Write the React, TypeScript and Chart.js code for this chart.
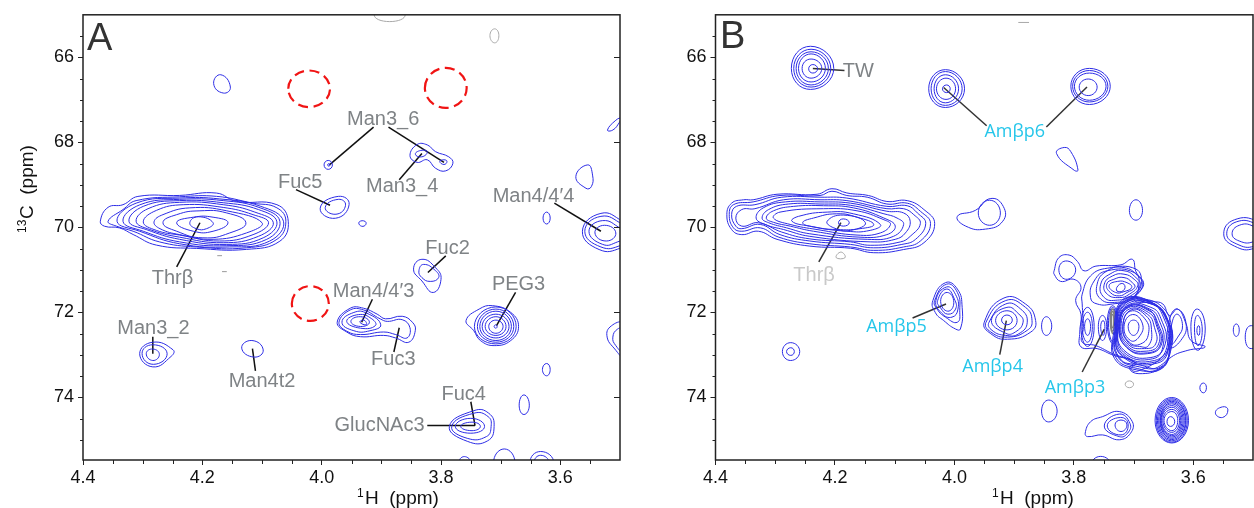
import React, { useEffect, useRef } from "react";
import { Chart, registerables } from "chart.js";
Chart.register(...registerables);

// ---- Tick values
const xTicksMajor = [4.4, 4.2, 4.0, 3.8, 3.6];
const yTicksMajor = [66, 68, 70, 72, 74];
const xMinor = [4.35, 4.3, 4.25, 4.15, 4.1, 4.05, 3.95, 3.9, 3.85, 3.75, 3.7, 3.65, 3.55];
const yMinor = [65.5, 66.5, 67, 67.5, 68.5, 69, 69.5, 70.5, 71, 71.5, 72.5, 73, 73.5, 74.5, 75];

// ---- Panel A contours, flat [ppmH, ppmC, ...] outlines
const thrA = [
  [4.371,69.855,4.358,69.528,4.333,69.466,4.308,69.271,4.238,69.248,4.176,69.193,4.143,69.388,4.075,69.466,4.056,69.855,4.07,70.323,4.126,70.517,4.21,70.494,4.277,70.416,4.316,70.167,4.339,70.011,4.364,69.972],
  [4.358,69.855,4.333,69.58,4.311,69.37,4.238,69.28,4.176,69.27,4.115,69.43,4.075,69.54,4.06,69.855,4.075,70.28,4.126,70.48,4.21,70.46,4.272,70.34,4.316,70.09,4.344,69.97],
  [4.343,69.855,4.311,69.43,4.238,69.31,4.171,69.33,4.103,69.5,4.064,69.855,4.087,70.32,4.154,70.46,4.238,70.385,4.305,70.09],
  [4.333,69.855,4.305,69.47,4.238,69.34,4.165,69.37,4.103,69.54,4.07,69.855,4.092,70.28,4.159,70.43,4.238,70.34,4.299,70.09],
  [4.323,69.855,4.299,69.505,4.238,69.37,4.165,69.42,4.106,69.58,4.075,69.87,4.098,70.245,4.159,70.4,4.238,70.28,4.294,70.05],
  [4.311,69.855,4.291,69.56,4.238,69.41,4.165,69.466,4.112,69.64,4.081,69.89,4.106,70.21,4.165,70.36,4.238,70.23,4.288,70.05],
  [4.299,69.87,4.277,69.6,4.232,69.466,4.165,69.53,4.115,69.7,4.089,69.89,4.115,70.17,4.171,70.32,4.238,70.18,4.277,70.07],
  [4.281,69.87,4.266,69.7,4.221,69.54,4.159,69.61,4.1,69.89,4.126,70.13,4.182,70.28,4.238,70.17,4.271,70.03],
  [4.266,69.89,4.243,69.7,4.204,69.61,4.159,69.66,4.127,69.89,4.154,70.13,4.199,70.245,4.243,70.09],
  [4.243,69.89,4.215,69.76,4.182,69.76,4.157,69.89,4.182,70.09,4.215,70.09],
  [4.221,69.89,4.207,69.75,4.182,69.89,4.193,70.03,4.21,70.03],
];
const man3A = [
  [3.852,68.31,3.84,68.05,3.823,68.06,3.809,68.22,3.787,68.34,3.78,68.49,3.792,68.67,3.809,68.61,3.823,68.41,3.84,68.47],
  [3.843,68.28,3.834,68.19,3.823,68.22,3.832,68.34],
  [3.802,68.45,3.795,68.41,3.79,68.45,3.795,68.52],
  [3.996,68.53,3.989,68.425,3.982,68.53,3.989,68.635],
  [3.99,68.53,3.988,68.5,3.986,68.53,3.988,68.56],
];
const man44A = [
  [3.563,70.09,3.532,69.67,3.495,69.86,3.465,70.17,3.498,70.48,3.535,70.52],
  [3.559,70.09,3.532,69.74,3.495,69.93,3.47,70.17,3.498,70.42,3.532,70.46],
  [3.552,70.09,3.529,69.84,3.498,70.03,3.484,70.17,3.504,70.34,3.529,70.4],
  [3.542,70.13,3.526,69.95,3.507,70.13,3.523,70.32],
];
const fucA = [
  [4.0025,69.55,3.972,69.27,3.954,69.46,3.977,69.785],
  [3.994,69.53,3.972,69.34,3.96,69.48,3.976,69.69],
  [3.846,70.98,3.832,70.75,3.809,70.95,3.8,71.22,3.813,71.53,3.832,71.26],
  [3.837,71.02,3.829,70.87,3.809,71.02,3.804,71.18,3.818,71.27,3.832,71.18],
  [3.786,74.68,3.745,74.31,3.72,74.37,3.711,74.68,3.722,75.02,3.756,75.03],
  [3.782,74.68,3.745,74.37,3.721,74.45,3.716,74.68,3.724,74.92,3.756,74.96],
  [3.776,74.68,3.75,74.49,3.727,74.68,3.75,74.84],
  [3.767,74.68,3.748,74.58,3.734,74.68,3.748,74.78],
];
const man443A = [
  [3.974,72.23,3.952,71.9,3.93,71.9,3.907,72.04,3.893,72.15,3.865,72.09,3.848,72.23,3.843,72.42,3.854,72.7,3.876,72.6,3.896,72.54,3.935,72.57,3.958,72.46],
  [3.971,72.23,3.952,71.94,3.93,71.94,3.902,72.15,3.89,72.21,3.865,72.17,3.852,72.36,3.857,72.6,3.876,72.52,3.896,72.46,3.935,72.52,3.958,72.44],
  [3.966,72.23,3.946,72.0,3.924,72.02,3.901,72.29,3.919,72.43,3.946,72.43],
  [3.958,72.21,3.938,72.05,3.916,72.15,3.91,72.31,3.935,72.37],
  [3.951,72.21,3.935,72.1,3.92,72.23,3.935,72.33],
  [3.936,72.23,3.929,72.18,3.925,72.29],
];
const pegA = [
  [3.758,72.19,3.736,71.92,3.714,71.84,3.683,72.0,3.67,72.33,3.683,72.66,3.711,72.78,3.734,72.66,3.745,72.43],
  [3.744,72.33,3.708,71.87,3.674,72.33,3.708,72.74],
  [3.739,72.33,3.708,71.92,3.678,72.33,3.708,72.7],
  [3.735,72.33,3.708,71.97,3.682,72.33,3.708,72.66],
  [3.731,72.33,3.708,72.04,3.686,72.33,3.708,72.6],
  [3.726,72.33,3.708,72.1,3.691,72.33,3.708,72.54],
  [3.72,72.33,3.708,72.18,3.696,72.33,3.708,72.49],
  [3.711,72.33,3.708,72.29,3.706,72.33,3.708,72.37],
];
const man3t2A = [
  [4.305,72.97,4.283,72.7,4.249,72.88,4.252,73.03,4.283,73.28],
  [4.301,72.97,4.283,72.76,4.259,72.97,4.282,73.22],
  [4.294,72.97,4.283,72.86,4.272,72.99,4.283,73.13],
  [4.134,72.84,4.117,72.66,4.098,72.88,4.113,73.05],
];
const weakA = [
  [4.181,66.62,4.169,66.41,4.153,66.7,4.165,66.84],
  [3.521,67.71,3.507,67.48,3.498,67.43,3.501,67.53,3.512,67.71],
  [3.574,68.8,3.554,68.53,3.546,68.77,3.548,69.04,3.557,69.08],
  [3.629,69.78,3.623,69.64,3.617,69.78,3.623,69.92],
  [3.937,69.87,3.927,69.86,3.927,69.95,3.935,69.96],
  [3.522,72.54,3.512,72.29,3.495,72.27,3.493,73.05,3.507,72.89],
  [3.512,72.58,3.504,72.39,3.494,72.39,3.494,72.93,3.507,72.78],
  [3.63,73.34,3.623,73.2,3.617,73.34,3.623,73.49],
  [3.669,74.18,3.661,73.94,3.652,74.18,3.661,74.4],
  [3.712,75.54,3.694,75.21,3.676,75.54,3.694,75.85],
  [3.651,75.54,3.633,75.27,3.611,75.54,3.633,75.85],
  [3.644,75.54,3.633,75.36,3.619,75.54,3.633,75.77],
  [3.77,75.54,3.761,75.39,3.75,75.54,3.761,75.7],
];
const grayLoopsA = [
  [3.912,65.0,3.886,64.8,3.86,65.0,3.886,65.16],
  [3.718,65.49,3.71,65.33,3.703,65.49,3.71,65.66],
];
const grayDashesA = [
  [4.175,70.665,4.167,70.665],
  [4.167,71.04,4.159,71.04],
];
const redCirclesA = [
  [4.056,66.74,4.021,66.31,3.986,66.74,4.021,67.17],
  [3.827,66.72,3.792,66.25,3.757,66.72,3.792,67.19],
  [4.05,71.79,4.019,71.38,3.988,71.79,4.019,72.2],
];
const leadersA = [
  [4.204,69.89,4.243,70.93],
  [3.913,67.64,3.987,68.53],
  [3.888,67.64,3.795,68.47],
  [3.87,68.88,3.832,68.26],
  [3.61,69.43,3.532,70.09],
  [4.043,69.11,3.986,69.48],
  [4.116,72.85,4.111,73.375],
  [4.283,72.57,4.283,72.97],
  [3.915,71.69,3.933,72.23],
  [3.87,72.36,3.879,72.93],
  [3.792,70.67,3.822,71.06],
  [3.675,71.53,3.707,72.31],
  [3.75,74.1,3.743,74.66],
  [3.823,74.66,3.743,74.66],
];
const labelNamesA = ["Man3_6","Man3_4","Fuc5","Man4/4′4","Fuc2","Thrβ","PEG3","Man4/4′3","Man3_2","Fuc3","Man4t2","Fuc4","GlucNAc3"];
const labelXA = [3.897,3.865,4.036,3.645,3.789,4.25,3.67,3.913,4.282,3.88,4.1,3.762,3.903];
const labelYA = [67.47,69.04,68.94,69.27,70.49,71.21,71.35,71.51,72.38,73.1,73.62,73.92,74.65];

// ---- Panel B contours
const thrB = [
  [4.381,69.7,4.373,69.43,4.353,69.35,4.337,69.35,4.297,69.22,4.23,69.22,4.205,69.09,4.18,69.19,4.144,69.25,4.113,69.39,4.079,69.37,4.051,69.58,4.033,69.91,4.051,70.36,4.085,70.52,4.135,70.595,4.174,70.49,4.242,70.44,4.297,70.28,4.328,70.09,4.356,70.17,4.373,70.05],
  [4.377,69.7,4.37,69.466,4.337,69.4,4.292,69.25,4.225,69.25,4.205,69.15,4.18,69.25,4.146,69.29,4.113,69.45,4.079,69.43,4.057,69.62,4.04,69.91,4.057,70.32,4.085,70.46,4.135,70.54,4.174,70.46,4.242,70.385,4.294,70.23,4.325,70.01,4.356,70.09,4.37,70.01],
  [4.373,69.7,4.365,69.505,4.334,69.466,4.289,69.29,4.225,69.29,4.18,69.31,4.113,69.505,4.079,69.49,4.062,69.66,4.048,69.91,4.065,70.28,4.088,70.4,4.135,70.48,4.174,70.4,4.242,70.32,4.292,70.17,4.325,69.93,4.356,70.03,4.366,69.97],
  [4.366,69.78,4.356,69.58,4.334,69.56,4.286,69.35,4.225,69.35,4.18,69.37,4.113,69.56,4.085,69.56,4.068,69.7,4.057,69.91,4.074,70.21,4.09,70.34,4.141,70.42,4.174,70.34,4.242,70.27,4.289,70.11,4.328,69.89,4.356,69.97],
  [4.332,69.78,4.32,69.54,4.283,69.4,4.225,69.4,4.174,69.43,4.113,69.62,4.085,69.66,4.074,69.855,4.082,70.13,4.099,70.28,4.141,70.34,4.242,70.21,4.286,70.05,4.317,69.93],
  [4.322,69.78,4.311,69.58,4.278,69.45,4.225,69.45,4.174,69.48,4.118,69.68,4.096,69.78,4.085,69.93,4.102,70.21,4.146,70.28,4.242,70.15,4.281,70.01,4.311,69.89],
  [4.315,69.78,4.303,69.61,4.269,69.505,4.219,69.49,4.169,69.54,4.118,69.78,4.099,69.97,4.113,70.17,4.158,70.23,4.236,70.09,4.275,69.97,4.303,69.88],
  [4.303,69.78,4.292,69.64,4.219,69.56,4.163,69.61,4.118,69.82,4.107,69.93,4.124,70.13,4.163,70.18,4.23,70.05,4.275,69.93],
  [4.272,69.855,4.261,69.74,4.213,69.64,4.169,69.68,4.124,69.93,4.141,70.07,4.18,70.09,4.242,69.97],
  [4.254,69.89,4.236,69.78,4.197,69.68,4.163,69.76,4.135,69.93,4.158,70.03,4.197,70.05,4.236,69.99],
  [4.213,69.855,4.186,69.71,4.149,69.89,4.174,70.07,4.202,70.01],
  [4.194,69.89,4.186,69.8,4.176,69.89,4.186,69.97],
];
const twB = [
  [4.273,66.26,4.241,65.74,4.202,66.26,4.241,66.755],
  [4.269,66.26,4.24,65.81,4.207,66.26,4.24,66.7],
  [4.265,66.26,4.24,65.87,4.211,66.26,4.24,66.65],
  [4.261,66.26,4.24,65.92,4.216,66.26,4.24,66.58],
  [4.255,66.26,4.24,66.04,4.222,66.26,4.24,66.49],
  [4.244,66.27,4.237,66.17,4.229,66.27,4.237,66.37],
];
const p6B = [
  [4.043,66.74,4.015,66.29,3.983,66.74,4.015,67.18],
  [4.039,66.74,4.015,66.335,3.987,66.74,4.015,67.13],
  [4.034,66.74,4.015,66.41,3.993,66.74,4.015,67.07],
  [4.03,66.74,4.014,66.49,3.998,66.74,4.014,66.99],
  [4.02,66.74,4.013,66.65,4.007,66.74,4.013,66.83],
  [3.805,66.68,3.774,66.26,3.739,66.68,3.774,67.11],
  [3.802,66.68,3.774,66.31,3.743,66.68,3.774,67.05],
  [3.799,66.68,3.774,66.37,3.746,66.68,3.774,67.01],
  [3.791,66.7,3.776,66.51,3.761,66.7,3.776,66.9],
];
const p5B = [
  [4.036,71.72,4.015,71.3,3.995,71.45,3.987,71.88,3.99,72.39,3.998,72.39,4.018,72.19,4.032,72.0],
  [4.033,71.72,4.013,71.335,3.995,71.53,3.991,71.96,3.995,72.23,4.015,72.11,4.029,71.92],
  [4.031,71.72,4.013,71.4,3.998,71.58,3.994,71.92,4.004,72.11,4.021,72.02],
  [4.028,71.72,4.013,71.45,4.0,71.685,3.998,71.92,4.011,72.04,4.023,71.895],
  [4.023,71.74,4.012,71.53,4.001,71.76,4.011,71.97],
];
const p4B = [
  [3.95,72.23,3.917,71.66,3.881,71.8,3.864,72.19,3.872,72.46,3.911,72.63,3.939,72.5],
  [3.947,72.23,3.914,71.72,3.881,71.88,3.87,72.19,3.878,72.42,3.911,72.58,3.939,72.46],
  [3.942,72.23,3.914,71.8,3.889,71.92,3.878,72.23,3.892,72.5,3.914,72.54,3.937,72.42],
  [3.938,72.19,3.912,71.88,3.892,72.04,3.885,72.23,3.898,72.46,3.914,72.49],
  [3.931,72.19,3.912,71.96,3.895,72.19,3.912,72.41],
  [3.921,72.18,3.912,72.06,3.903,72.18,3.912,72.29],
];
const clusterOuterB = [
  [3.833,71.02,3.825,70.71,3.808,70.65,3.794,70.8,3.783,71.02,3.763,70.91,3.721,70.88,3.702,70.75,3.696,71.04,3.683,71.335,3.696,71.65,3.668,71.74,3.651,71.8,3.64,72.07,3.626,71.92,3.612,72.27,3.604,72.66,3.58,72.81,3.609,72.89,3.637,73.05,3.654,73.32,3.691,73.44,3.707,73.32,3.699,73.16,3.733,73.01,3.761,72.85,3.788,72.81,3.79,72.46,3.788,72.04,3.797,71.72,3.788,71.41,3.8,71.22,3.822,71.27,3.833,71.1],
  [3.825,71.02,3.814,70.79,3.797,70.98,3.811,71.22],
  [3.784,72.35,3.786,71.8,3.786,71.57,3.772,71.14,3.744,70.96,3.696,70.98,3.687,71.335,3.699,71.71,3.668,71.8,3.646,72.07,3.64,72.66,3.649,73.01,3.693,73.38,3.705,73.32,3.696,73.19,3.735,72.97,3.763,72.78,3.786,72.7],
  [3.772,71.65,3.766,71.26,3.744,71.02,3.699,71.06,3.691,71.335,3.703,71.685,3.735,71.8,3.761,71.8],
];
const clusterTopB = [
  [3.761,71.335,3.744,71.02,3.716,70.945,3.693,71.14,3.685,71.37,3.702,71.65,3.727,71.76,3.755,71.685],
  [3.755,71.335,3.738,71.085,3.716,71.02,3.696,71.18,3.689,71.37,3.705,71.61,3.727,71.71,3.749,71.65],
  [3.749,71.335,3.735,71.14,3.716,71.1,3.699,71.22,3.693,71.37,3.707,71.57,3.724,71.65,3.744,71.57],
  [3.745,71.335,3.733,71.22,3.716,71.18,3.702,71.3,3.698,71.41,3.711,71.53,3.724,71.61,3.739,71.53],
  [3.741,71.37,3.727,71.27,3.711,71.3,3.703,71.41,3.716,71.51,3.73,71.53],
  [3.728,71.41,3.718,71.32,3.715,71.45,3.726,71.51],
];
const clusterLobesB = [
  [3.788,72.33,3.777,71.88,3.766,72.33,3.777,72.8],
  [3.786,72.33,3.777,71.995,3.769,72.33,3.777,72.7],
  [3.782,72.33,3.777,72.15,3.772,72.33,3.777,72.54],
  [3.759,72.33,3.752,72.07,3.745,72.33,3.752,72.66],
  [3.755,72.33,3.751,72.19,3.748,72.33,3.751,72.54],
  [3.744,72.27,3.735,71.84,3.726,72.27,3.734,72.74],
  [3.742,72.27,3.735,71.88,3.728,72.27,3.734,72.7],
  [3.64,72.19,3.627,71.92,3.612,72.27,3.621,72.66,3.64,72.81],
  [3.636,72.27,3.627,72.04,3.618,72.31,3.626,72.58,3.637,72.74],
  [3.604,72.33,3.593,71.92,3.58,72.39,3.593,72.89],
  [3.598,72.39,3.593,72.07,3.585,72.39,3.592,72.78],
  [3.594,72.425,3.591,72.31,3.589,72.425,3.591,72.54],
];
const clusterCoreB = [
  [3.709,72.33,3.7,72.18,3.691,72.33,3.7,72.54],
  [3.716,72.33,3.702,72.05,3.685,72.27,3.691,72.58,3.705,72.66],
  [3.718,72.33,3.705,71.97,3.681,72.15,3.675,72.5,3.688,72.74,3.707,72.7],
  [3.718,72.34,3.704,71.94,3.679,72.08,3.67,72.4,3.675,72.78,3.69,72.8,3.708,72.72],
  [3.721,72.33,3.707,71.92,3.677,72.04,3.665,72.35,3.663,72.74,3.682,72.85,3.709,72.75],
  [3.7225,72.33,3.709,71.89,3.675,72.0,3.662,72.29,3.658,72.74,3.679,72.91,3.71,72.79],
  [3.7235,72.34,3.709,71.87,3.674,71.94,3.661,72.26,3.655,72.74,3.677,72.95,3.712,72.81],
  [3.724,72.33,3.709,71.86,3.674,71.96,3.66,72.23,3.653,72.74,3.677,72.97,3.711,72.83],
  [3.725,72.34,3.71,71.85,3.673,71.92,3.657,72.19,3.65,72.74,3.668,73.09,3.717,72.93],
  [3.726,72.35,3.711,71.84,3.671,71.88,3.654,72.15,3.647,72.74,3.671,73.06,3.716,72.89],
  [3.727,72.35,3.713,71.82,3.671,71.8,3.65,72.11,3.643,72.74,3.665,73.13,3.718,72.97],
  [3.728,72.35,3.716,71.79,3.672,71.79,3.646,72.07,3.64,72.74,3.66,73.19,3.72,73.02],
  [3.7285,72.38,3.713,71.78,3.673,71.75,3.648,72.09,3.641,72.74,3.662,73.16,3.719,73.0],
  [3.7295,72.4,3.716,71.75,3.675,71.73,3.642,72.22,3.637,72.78,3.655,73.25,3.69,73.28,3.727,73.03],
  [3.73,72.36,3.717,71.76,3.674,71.76,3.643,72.19,3.639,72.81,3.654,73.28,3.688,73.24,3.724,73.06],
  [3.731,72.425,3.718,71.74,3.677,71.71,3.64,72.27,3.639,72.81,3.653,73.32,3.693,73.32,3.73,73.05],
  [3.733,72.45,3.72,71.72,3.68,71.69,3.65,71.9,3.637,72.3,3.637,72.85,3.654,73.3,3.695,73.35,3.732,73.08],
];
const box74B = [
  [3.664,74.54,3.636,74.0,3.608,74.54,3.636,75.07],
  [3.662,74.54,3.636,74.03,3.61,74.54,3.636,75.05],
  [3.66,74.54,3.636,74.06,3.612,74.54,3.636,75.02],
  [3.658,74.54,3.636,74.09,3.613,74.54,3.636,74.99],
  [3.656,74.54,3.636,74.12,3.615,74.54,3.636,74.96],
  [3.655,74.54,3.636,74.15,3.617,74.54,3.636,74.93],
  [3.654,74.54,3.636,74.19,3.619,74.54,3.636,74.9],
  [3.653,74.54,3.636,74.23,3.621,74.54,3.636,74.87],
  [3.651,74.54,3.636,74.28,3.623,74.54,3.636,74.82],
  [3.649,74.54,3.636,74.33,3.626,74.54,3.636,74.78],
  [3.644,74.57,3.638,74.45,3.631,74.57,3.638,74.68],
];
const weakB = [
  [3.829,68.26,3.816,68.12,3.805,68.22,3.793,68.65,3.799,68.66],
  [3.707,69.6,3.696,69.35,3.685,69.6,3.696,69.83],
  [3.549,70.15,3.531,69.82,3.492,69.86,3.475,70.17,3.498,70.49,3.531,70.44],
  [3.544,70.15,3.528,69.87,3.495,69.92,3.481,70.17,3.498,70.44,3.528,70.385],
  [3.535,70.15,3.523,69.95,3.5,69.97,3.489,70.17,3.5,70.34,3.523,70.32],
  [3.995,69.74,3.965,69.6,3.939,69.32,3.918,69.51,3.919,69.855,3.948,70.04,3.981,69.97],
  [3.96,69.66,3.941,69.36,3.923,69.66,3.941,69.95],
  [4.288,72.92,4.274,72.71,4.259,72.92,4.274,73.13],
  [4.281,72.92,4.274,72.83,4.268,72.92,4.274,73.01],
  [3.854,72.32,3.846,72.1,3.837,72.32,3.846,72.54],
  [3.854,74.32,3.842,74.06,3.828,74.32,3.842,74.575],
  [3.533,72.41,3.528,72.27,3.523,72.41,3.528,72.565],
  [3.513,72.58,3.503,72.31,3.486,72.58,3.503,72.85],
  [3.589,73.77,3.583,73.66,3.578,73.77,3.583,73.89],
  [3.563,74.36,3.551,74.22,3.542,74.29,3.551,74.47],
  [3.781,74.84,3.772,74.57,3.752,74.45,3.724,74.33,3.702,74.57,3.705,74.84,3.724,74.995,3.752,74.88,3.777,74.92],
  [3.749,74.67,3.724,74.39,3.706,74.61,3.71,74.84,3.724,74.92],
  [3.744,74.67,3.722,74.47,3.709,74.645,3.721,74.88],
  [3.731,74.645,3.721,74.53,3.711,74.645,3.721,74.8],
  [3.771,75.6,3.755,75.385,3.738,75.6,3.755,75.85],
];
const grayFillB = [
  [3.739,72.19,3.735,71.92,3.73,72.19,3.734,72.5],
  [3.738,72.19,3.735,71.97,3.732,72.19,3.735,72.44],
  [3.737,72.19,3.735,72.05,3.733,72.19,3.735,72.36],
];
const grayLoopsB = [
  [3.714,73.69,3.707,73.61,3.7,73.69,3.707,73.77],
  [4.198,70.71,4.19,70.58,4.183,70.71],
];
const grayDashesB = [[3.893,65.18,3.875,65.18]];
const leadersB = [
  [4.237,66.26,4.184,66.31],
  [4.018,66.71,3.946,67.61],
  [3.778,66.7,3.846,67.64],
  [4.19,69.89,4.227,70.81],
  [4.014,71.8,4.07,72.13],
  [3.913,72.19,3.924,72.99],
  [3.749,72.39,3.786,73.4],
];
const labelNamesB = ["TW","Thrβ","Amβp6","Amβp5","Amβp4","Amβp3"];
const labelXB = [4.161,4.235,3.899,4.097,3.936,3.798];
const labelYB = [66.33,71.14,67.75,72.33,73.29,73.78];

// ---- Styles
const BLUE = "#2c2ce6";
const GRAY_TXT = "#7f8386";
const CYAN = "#26c6ea";
const FONT = '"Liberation Sans", Arial, sans-serif';

function toPts(f: number[]) {
  const out: { x: number; y: number }[] = [];
  for (let i = 0; i < f.length; i += 2) out.push({ x: f[i], y: f[i + 1] });
  return out;
}
function ringTension(n: number) {
  if (n <= 4) return 0.55;
  if (n <= 8) return 0.5;
  return 0.45;
}
function loop(f: number[], color: string, width = 1, dash: number[] = []) {
  return {
    data: toPts(f), showLine: true, closedRing: true, borderColor: color, borderWidth: width,
    borderDash: dash, pointRadius: 0, tension: ringTension(f.length / 2), capBezierPoints: false,
  };
}
function stroke(f: number[], color: string, width: number) {
  return { data: toPts(f), showLine: true, borderColor: color, borderWidth: width, pointRadius: 0, tension: 0 };
}

type PanelCfg = {
  letter: string; letterX: number; letterY: number;
  names: string[]; lx: number[]; ly: number[]; colors: string[];
  rightTicks: boolean; titleX: number; yTitle: boolean; fontFor: (i: number) => string;
};

function makePlugin(p: PanelCfg) {
  return {
    id: "panel" + p.letter,
    beforeDatasetUpdate(chart: any, args: any) {
      const ds = chart.data.datasets[args.index];
      if (ds.closedRing && args.meta.dataset) args.meta.dataset._fullLoop = true;
    },
    afterDraw(chart: any) {
      const { ctx, chartArea: a, scales } = chart;
      const sx = scales.x, sy = scales.y;
      ctx.save();
      ctx.strokeStyle = "#222"; ctx.lineWidth = 1;
      ctx.beginPath();
      xMinor.forEach((v) => { const px = Math.round(sx.getPixelForValue(v)) + 0.5; ctx.moveTo(px, a.bottom); ctx.lineTo(px, a.bottom + 4); });
      yMinor.forEach((v) => { const py = Math.round(sy.getPixelForValue(v)) + 0.5; ctx.moveTo(a.left, py); ctx.lineTo(a.left - 3, py); });
      if (p.rightTicks) yTicksMajor.forEach((v) => { const py = Math.round(sy.getPixelForValue(v)) + 0.5; ctx.moveTo(a.right, py); ctx.lineTo(a.right - 6, py); });
      ctx.stroke();
      ctx.strokeStyle = "#222"; ctx.lineWidth = 1.5;
      ctx.strokeRect(a.left, a.top, a.right - a.left, a.bottom - a.top);
      ctx.textAlign = "center"; ctx.textBaseline = "middle";
      p.names.forEach((n, i) => {
        ctx.font = p.fontFor(i); ctx.fillStyle = p.colors[i];
        ctx.fillText(n, sx.getPixelForValue(p.lx[i]), sy.getPixelForValue(p.ly[i]));
      });
      ctx.textAlign = "left"; ctx.textBaseline = "alphabetic";
      ctx.font = `38px ${FONT}`; ctx.fillStyle = "#333";
      ctx.fillText(p.letter, p.letterX, p.letterY);
      ctx.fillStyle = "#111";
      ctx.font = `12px ${FONT}`; ctx.fillText("1", p.titleX, 497);
      ctx.font = `19px ${FONT}`; ctx.fillText("H  (ppm)", p.titleX + 8, 504);
      if (p.yTitle) {
        ctx.translate(33, 233); ctx.rotate(-Math.PI / 2);
        ctx.font = `12px ${FONT}`; ctx.fillText("13", 0, -7);
        ctx.font = `19px ${FONT}`; ctx.fillText("C  (ppm)", 14, 0);
      }
      ctx.restore();
    },
  };
}

function makeOptions(yWidth: number, padRight: number) {
  return {
    animation: false, responsive: false, devicePixelRatio: 1,
    layout: { padding: { top: 12, right: padRight, left: 0, bottom: 0 } },
    plugins: { legend: { display: false }, tooltip: { enabled: false } },
    scales: {
      x: {
        type: "linear", reverse: true, min: 3.5, max: 4.4,
        afterBuildTicks: (s: any) => { s.ticks = xTicksMajor.map((value) => ({ value })); },
        afterFit: (s: any) => { s.height = 48; },
        border: { display: false },
        grid: { display: true, drawOnChartArea: false, drawTicks: true, tickLength: 5, tickColor: "#222", tickWidth: 1 },
        ticks: { color: "#111", font: { family: "Liberation Sans", size: 18 }, padding: 2, maxRotation: 0, autoSkip: false, callback: (v: any) => Number(v).toFixed(1) },
      },
      y: {
        type: "linear", reverse: true, min: 65, max: 75.47,
        afterBuildTicks: (s: any) => { s.ticks = yTicksMajor.map((value) => ({ value })); },
        afterFit: (s: any) => { s.width = yWidth; },
        border: { display: false },
        grid: { display: true, drawOnChartArea: false, drawTicks: true, tickLength: 5, tickColor: "#222", tickWidth: 1 },
        ticks: { color: "#111", font: { family: "Liberation Sans", size: 18 }, padding: 4, autoSkip: false, callback: (v: any) => String(v) },
      },
    },
  };
}

function datasetsA() {
  const blue = [...thrA, ...man3A, ...man44A, ...fucA, ...man443A, ...pegA, ...man3t2A, ...weakA];
  return [
    ...blue.map((f) => loop(f, BLUE)),
    ...grayLoopsA.map((f) => loop(f, "#a9a9a9")),
    ...grayDashesA.map((f) => stroke(f, "#9a9a9a", 1)),
    ...redCirclesA.map((f) => loop(f, "#f01414", 2.2, [10, 5.5])),
    ...leadersA.map((f) => stroke(f, "#111", 1.5)),
  ];
}
function datasetsB() {
  const blue = [...thrB, ...twB, ...p6B, ...p5B, ...p4B, ...clusterOuterB, ...clusterTopB, ...clusterLobesB, ...clusterCoreB, ...box74B, ...weakB];
  return [
    ...blue.map((f) => loop(f, BLUE)),
    ...grayFillB.map((f) => loop(f, "#808080", 1.5)),
    ...grayLoopsB.map((f) => loop(f, "#a9a9a9")),
    ...grayDashesB.map((f) => stroke(f, "#a9a9a9", 1)),
    ...leadersB.map((f) => stroke(f, "#333", 1.5)),
  ];
}

export default function App() {
  const refA = useRef<HTMLCanvasElement>(null);
  const refB = useRef<HTMLCanvasElement>(null);
  useEffect(() => {
    const gray = `20px ${FONT}`;
    const pA: PanelCfg = {
      letter: "A", letterX: 87, letterY: 50, names: labelNamesA, lx: labelXA, ly: labelYA,
      colors: labelNamesA.map(() => GRAY_TXT), rightTicks: true, titleX: 357, yTitle: true, fontFor: () => gray,
    };
    const pB: PanelCfg = {
      letter: "B", letterX: 85, letterY: 48, names: labelNamesB, lx: labelXB, ly: labelYB,
      colors: [GRAY_TXT, "#c9c9c9", CYAN, CYAN, CYAN, CYAN], rightTicks: false, titleX: 357, yTitle: false,
      fontFor: (i) => (i < 2 ? gray : '18px "Open Sans", sans-serif'),
    };
    const a = new Chart(refA.current as any, { type: "scatter", data: { datasets: datasetsA() as any }, options: makeOptions(83, 15) as any, plugins: [makePlugin(pA)] as any });
    const b = new Chart(refB.current as any, { type: "scatter", data: { datasets: datasetsB() as any }, options: makeOptions(80.5, 1) as any, plugins: [makePlugin(pB)] as any });
    return () => { a.destroy(); b.destroy(); };
  }, []);
  return (
    <div style={{ position: "absolute", left: 0, top: 0, width: 1254, height: 508, background: "#fff", overflow: "hidden" }}>
      <canvas ref={refA} width={635} height={508} style={{ position: "absolute", left: 0, top: 0 }} />
      <canvas ref={refB} width={619} height={508} style={{ position: "absolute", left: 635, top: 0 }} />
    </div>
  );
}
